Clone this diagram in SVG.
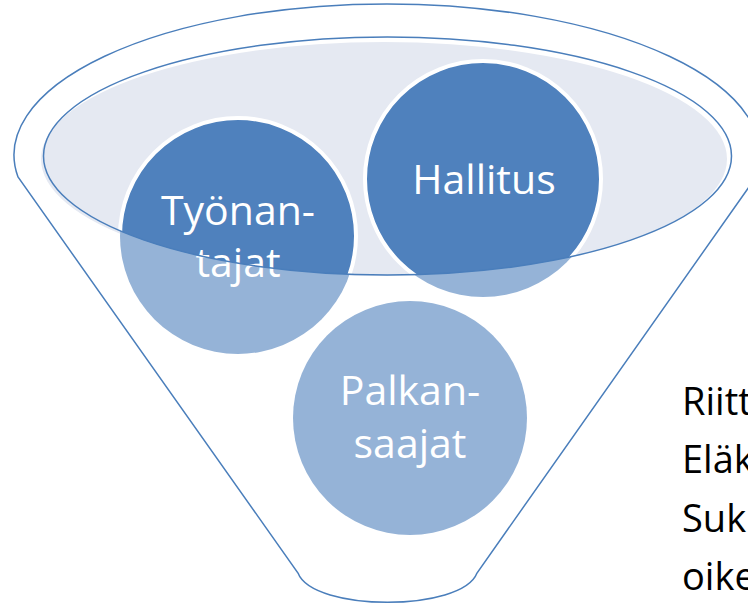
<svg xmlns="http://www.w3.org/2000/svg" width="748" height="605" viewBox="0 0 748 605">
<style>
.lbl{font-family:"Open Sans","Liberation Sans",sans-serif;font-size:41px;fill:#ffffff;text-anchor:middle}
.side{font-family:"Open Sans","Liberation Sans",sans-serif;font-size:38px;fill:#000000}
.light{fill:#95B3D7}
.dark{fill:#4F81BD;stroke:#ffffff;stroke-width:4}
.line{fill:none;stroke:#4A7EBB;stroke-width:1.5}
</style>
<defs>
<clipPath id="mouth"><ellipse cx="387.5" cy="156" rx="344" ry="119"/></clipPath>
</defs>
<rect width="748" height="605" fill="#ffffff"/>
<g id="funnel">
<path class="line" fill="#ffffff" d="M 18 177 A 373 151 0 1 1 756 177 L 477 573 C 462 612 313 612 298 573 Z"/>
<ellipse cx="384" cy="159" rx="343" ry="117" fill="#E5E9F2"/>
</g>
<g id="palkansaajat">
<circle class="light" cx="410" cy="418" r="117"/>
<text class="lbl" x="410" y="405">Palkan-</text>
<text class="lbl" x="410" y="458">saajat</text>
</g>
<g id="tyonantajat">
<circle class="light" cx="238" cy="236" r="118"/>
<circle class="dark" cx="238" cy="236" r="118" clip-path="url(#mouth)"/>
<text class="lbl" x="238" y="225">Työnan-</text>
<text class="lbl" x="238" y="277">tajat</text>
</g>
<g id="hallitus">
<circle class="light" cx="483" cy="179" r="118"/>
<circle class="dark" cx="483" cy="179" r="118" clip-path="url(#mouth)"/>
<text class="lbl" x="484" y="194">Hallitus</text>
</g>
<g id="mouth-rim">
<ellipse class="line" cx="387.5" cy="156" rx="344" ry="119"/>
</g>
<g id="side-text">
<text class="side" x="682" y="415">Riitt</text>
<text class="side" x="682" y="473">Eläk</text>
<text class="side" x="682" y="532">Suk</text>
<text class="side" x="682" y="590">oike</text>
</g>
</svg>
